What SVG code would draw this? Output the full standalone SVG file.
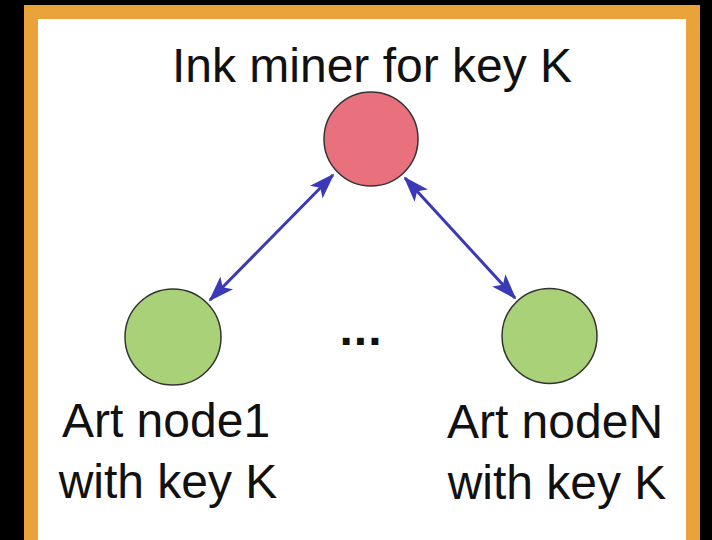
<svg xmlns="http://www.w3.org/2000/svg" width="712" height="540" viewBox="0 0 712 540">
<defs>
<style>
.lbl{font-family:"Liberation Sans",Arial,sans-serif;font-size:48px;fill:#111;text-anchor:middle}
.edge{stroke:#3a3ab9;stroke-width:3;fill:none}
.red{fill:#e8717d;stroke:#333;stroke-width:1.5}
.green{fill:#a9d177;stroke:#333;stroke-width:1.5}
</style>
<marker id="ah" viewBox="0 0 26 18" refX="24" refY="9" markerWidth="26" markerHeight="18" markerUnits="userSpaceOnUse" orient="auto-start-reverse">
<path d="M0,0 L26,9 L0,18 L6,9 Z" fill="#3a3ab9"/>
</marker>
</defs>
<rect x="0" y="0" width="712" height="540" fill="#000"/>
<rect x="31" y="12" width="662" height="540" fill="#fff" stroke="#e9a33a" stroke-width="14"/>
<g id="connectors">
<line class="edge" x1="333" y1="175" x2="210" y2="300" marker-start="url(#ah)" marker-end="url(#ah)"/>
<line class="edge" x1="405" y1="178" x2="515" y2="298" marker-start="url(#ah)" marker-end="url(#ah)"/>
</g>
<g id="ink-miner">
<circle class="red" cx="371" cy="139" r="47"/>
<text class="lbl" x="372" y="82" font-size="50">Ink miner for key K</text>
</g>
<g id="art-node1">
<circle class="green" cx="173" cy="337" r="48"/>
<text class="lbl" x="166" y="437">Art node1</text>
<text class="lbl" x="168" y="498">with key K</text>
</g>
<g id="art-nodeN">
<circle class="green" cx="549.5" cy="336" r="47.5"/>
<text class="lbl" x="555" y="438">Art nodeN</text>
<text class="lbl" x="557" y="499">with key K</text>
</g>
<g id="ellipsis">
<text class="lbl" x="361" y="345" font-size="56" font-weight="bold" letter-spacing="1">...</text>
</g>
</svg>
